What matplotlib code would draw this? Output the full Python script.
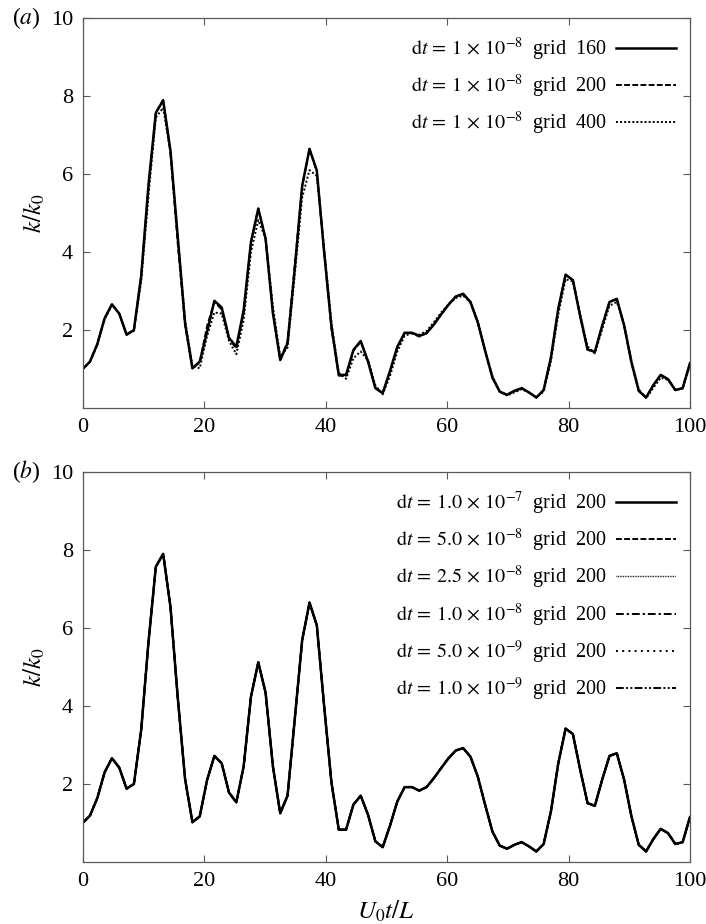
import numpy as np
import matplotlib
matplotlib.use("Agg")
import matplotlib.pyplot as plt

plt.rcParams['font.family'] = 'serif'
plt.rcParams['font.serif'] = ['Liberation Serif', 'DejaVu Serif']
plt.rcParams['mathtext.fontset'] = 'stix'
plt.rcParams['font.size'] = 13

# time grid, U0 t / L (84 output samples)
t = np.linspace(0, 100, 84)

# dt = 1e-8, grid 200 (shared by both panels)
k_g200 = [1.00, 1.19, 1.64, 2.30, 2.66, 2.42, 1.88, 2.00, 3.39, 5.65,
          7.57, 7.90, 6.54, 4.20, 2.12, 1.02, 1.17, 2.10, 2.72, 2.53,
          1.78, 1.53, 2.45, 4.24, 5.12, 4.34, 2.45, 1.25, 1.70, 3.69,
          5.69, 6.65, 6.07, 4.00, 2.04, 0.83, 0.83, 1.47, 1.70, 1.21,
          0.53, 0.38, 0.93, 1.55, 1.92, 1.92, 1.83, 1.92, 2.15, 2.41,
          2.66, 2.86, 2.92, 2.70, 2.19, 1.47, 0.78, 0.42, 0.34, 0.44,
          0.51, 0.40, 0.27, 0.46, 1.30, 2.53, 3.42, 3.28, 2.36, 1.51,
          1.44, 2.11, 2.72, 2.79, 2.11, 1.17, 0.44, 0.27, 0.59, 0.85,
          0.74, 0.46, 0.51, 1.15]

# dt = 1e-8, grid 160
k_g160 = [1.00, 1.19, 1.64, 2.30, 2.66, 2.42, 1.88, 2.00, 3.39, 5.74,
          7.57, 7.89, 6.60, 4.38, 2.17, 1.02, 1.19, 1.95, 2.75, 2.58,
          1.80, 1.57, 2.51, 4.26, 5.11, 4.34, 2.43, 1.23, 1.66, 3.60,
          5.70, 6.64, 6.09, 4.00, 2.09, 0.85, 0.85, 1.49, 1.72, 1.19,
          0.51, 0.38, 0.95, 1.57, 1.93, 1.93, 1.85, 1.92, 2.14, 2.40,
          2.65, 2.86, 2.93, 2.72, 2.20, 1.47, 0.78, 0.42, 0.34, 0.44,
          0.51, 0.40, 0.27, 0.46, 1.30, 2.55, 3.42, 3.28, 2.35, 1.50,
          1.44, 2.11, 2.72, 2.80, 2.12, 1.17, 0.44, 0.27, 0.59, 0.85,
          0.74, 0.46, 0.51, 1.15]

# dt = 1e-8, grid 400
k_g400 = [1.00, 1.19, 1.62, 2.28, 2.64, 2.42, 1.90, 1.98, 3.25, 5.45,
          7.45, 7.70, 6.55, 4.35, 2.25, 1.08, 1.02, 1.85, 2.45, 2.42,
          1.72, 1.38, 2.25, 4.00, 4.82, 4.35, 2.60, 1.32, 1.55, 3.45,
          5.40, 6.10, 5.95, 4.10, 2.20, 0.90, 0.75, 1.28, 1.45, 1.22,
          0.58, 0.35, 0.82, 1.45, 1.85, 1.92, 1.88, 1.97, 2.20, 2.45,
          2.66, 2.82, 2.88, 2.72, 2.22, 1.50, 0.82, 0.42, 0.32, 0.40,
          0.48, 0.40, 0.28, 0.42, 1.20, 2.40, 3.30, 3.25, 2.40, 1.58,
          1.40, 2.02, 2.62, 2.72, 2.15, 1.22, 0.48, 0.25, 0.52, 0.78,
          0.72, 0.46, 0.50, 1.10]

# panel (b): all time steps overlay within the line width
k_dt1e7 = k_g200
k_dt5e8 = k_g200
k_dt25e9 = k_g200
k_dt1e8 = k_g200
k_dt5e9 = k_g200
k_dt1e9 = k_g200

labels_a = [r'$\mathrm{d}t\,=\,1\,\times\,10^{-8}$  grid  160',
            r'$\mathrm{d}t\,=\,1\,\times\,10^{-8}$  grid  200',
            r'$\mathrm{d}t\,=\,1\,\times\,10^{-8}$  grid  400']
labels_b = [r'$\mathrm{d}t\,=\,1.0\,\times\,10^{-7}$  grid  200',
            r'$\mathrm{d}t\,=\,5.0\,\times\,10^{-8}$  grid  200',
            r'$\mathrm{d}t\,=\,2.5\,\times\,10^{-8}$  grid  200',
            r'$\mathrm{d}t\,=\,1.0\,\times\,10^{-8}$  grid  200',
            r'$\mathrm{d}t\,=\,5.0\,\times\,10^{-9}$  grid  200',
            r'$\mathrm{d}t\,=\,1.0\,\times\,10^{-9}$  grid  200']

fig = plt.figure(figsize=(7.06, 9.24), dpi=100)
ax1 = fig.add_axes([0.1171, 0.5584, 0.8602, 0.4221])
ax2 = fig.add_axes([0.1171, 0.0671, 0.8602, 0.4221])

ax1.plot(t, k_g160, color='k', lw=1.8, ls='-', label=labels_a[0])
ax1.plot(t, k_g200, color='k', lw=1.4, ls=(0, (3, 1.2)), label=labels_a[1])
ax1.plot(t, k_g400, color='k', lw=1.4, ls=(0, (1, 1.1)), label=labels_a[2])

styles_b = [('-', 1.8), ((0, (3, 1.2)), 1.4), ((0, (0.6, 0.6)), 1.0),
            ((0, (4, 1.5, 1.2, 1.5)), 1.4), ((0, (1, 2.2)), 1.4),
            ((0, (4, 1.2, 1, 1.2, 1, 1.2)), 1.4)]
series_b = [k_dt1e7, k_dt5e8, k_dt25e9, k_dt1e8, k_dt5e9, k_dt1e9]
for k, (ls, lw), lab in zip(series_b, styles_b, labels_b):
    ax2.plot(t, k, color='k', lw=lw, ls=ls, label=lab)

for ax, tag in [(ax1, r'($a$)'), (ax2, r'($b$)')]:
    ax.set_xlim(0, 100)
    ax.set_ylim(0, 10)
    ax.set_xticks([0, 20, 40, 60, 80, 100])
    ax.set_yticks([2, 4, 6, 8, 10])
    ax.tick_params(direction='in', top=True, right=True, length=5,
                   width=0.8, color='0.35', labelsize=16, pad=7)
    for s in ax.spines.values():
        s.set_color('0.35')
        s.set_linewidth(0.9)
    ax.set_ylabel(r'$k/k_0$', fontsize=18, labelpad=3)
    ax.text(-0.07, 1.0, tag, transform=ax.transAxes, fontsize=17,
            ha='right', va='center')
    leg = ax.legend(loc='upper right', frameon=False, markerfirst=False,
                    handlelength=3.0, handletextpad=0.45, labelspacing=0.5,
                    fontsize=14.5, bbox_to_anchor=(0.997, 0.985),
                    borderaxespad=0.2)

ax2.set_xlabel(r'$U_0t/L$', fontsize=18, labelpad=6)

fig.savefig('out.png', dpi=100)
